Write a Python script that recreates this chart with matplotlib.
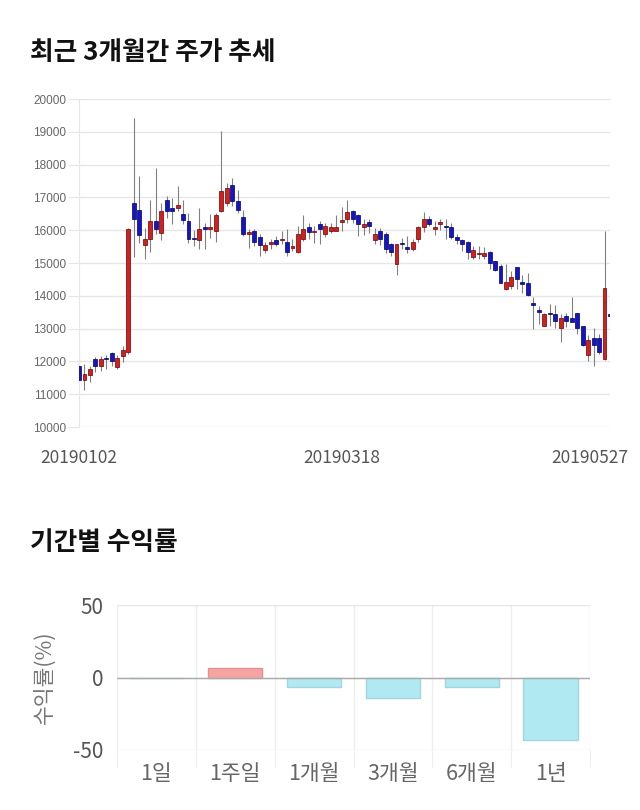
import numpy as np
import matplotlib
matplotlib.use("Agg")
import matplotlib.pyplot as plt
from matplotlib.transforms import ScaledTranslation

plt.rcParams['font.family'] = ['Noto Sans CJK KR', 'DejaVu Sans']

# daily candles, 2019-01-02 .. 2019-05-27
opens = [11850, 11420, 11600, 12060, 11850, 12110, 12260, 11820, 12160, 12300,
         16830, 16630, 15540, 15740, 16280, 15900, 16930, 16680, 16680, 16480,
         16280, 15770, 15690, 16090, 16040, 15990, 16580, 16830, 17390, 16880,
         16400, 15870, 15990, 15790, 15390, 15590, 15690, 15690, 15640, 15450,
         15340, 15740, 16090, 15940, 16200, 15890, 15990, 15990, 16250, 16350,
         16580, 16450, 16090, 16250, 15690, 15990, 15890, 15590, 14980, 15620,
         15500, 15440, 15720, 16090, 16350, 16040, 16200, 16120, 16090, 15790,
         15690, 15640, 15180, 15280, 15210, 15340, 15060, 14910, 14200, 14300,
         14890, 14430, 14380, 13770, 13570, 13090, 13490, 13440, 13010, 13390,
         13310, 13490, 13090, 12200, 12700, 12700, 12080, 13440]
highs = [12280, 11920, 11870, 12130, 12160, 12180, 12300, 12180, 12480, 16060,
         19410, 17640, 16070, 16930, 17900, 16830, 17040, 16980, 17340, 16930,
         16530, 16020, 16680, 16230, 16480, 16530, 19010, 17440, 17590, 17240,
         16630, 16040, 16040, 15870, 15640, 15740, 15820, 15970, 16040, 15740,
         16120, 16450, 16210, 16120, 16280, 16210, 16230, 16450, 16700, 16930,
         16630, 16480, 16330, 16350, 16070, 16070, 15940, 15620, 15590, 15770,
         15820, 15720, 16120, 16550, 16430, 16280, 16330, 16330, 16230, 15870,
         15740, 15670, 15520, 15520, 15490, 15370, 15060, 14960, 14960, 14760,
         14890, 14640, 14690, 13950, 13700, 13490, 13750, 13720, 13440, 13490,
         13950, 13490, 13090, 12810, 13010, 12840, 15970, 14100]
lows = [11270, 11120, 11370, 11670, 11720, 11770, 11850, 11770, 11980, 12230,
        15190, 15620, 15110, 15340, 15870, 15700, 16380, 16200, 16580, 16200,
        15620, 15520, 15420, 15420, 15770, 15640, 16550, 16730, 16730, 16530,
        15820, 15470, 15520, 15210, 15290, 15420, 15520, 15570, 15210, 15370,
        15320, 15670, 15740, 15620, 15590, 15800, 15920, 15970, 15970, 16230,
        16210, 15820, 15840, 15920, 15570, 15550, 15320, 15210, 14630, 15420,
        15320, 15370, 15640, 15940, 16120, 15840, 16020, 15720, 15720, 15570,
        15370, 15110, 15110, 15110, 15110, 14810, 14760, 14380, 14180, 14200,
        14200, 14100, 13980, 13000, 13150, 13070, 13090, 13010, 12580, 13040,
        13210, 12840, 12480, 12000, 11850, 12230, 12030, 13070]
closes = [11420, 11620, 11770, 11850, 12060, 12060, 12010, 12110, 12360, 16040,
          16350, 15840, 15740, 16280, 16040, 16580, 16600, 16600, 16780, 16300,
          15740, 15740, 16040, 16040, 16090, 16450, 17190, 17290, 16880, 16630,
          15870, 15940, 15640, 15540, 15540, 15650, 15590, 15720, 15340, 15520,
          15890, 16040, 15940, 15990, 16040, 16140, 16090, 16090, 16300, 16550,
          16350, 16200, 16200, 16140, 15890, 15740, 15440, 15340, 15590, 15590,
          15440, 15640, 16090, 16350, 16200, 16090, 16250, 16090, 15790, 15690,
          15590, 15340, 15390, 15320, 15320, 15010, 14790, 14400, 14420, 14560,
          14510, 14370, 14030, 13730, 13510, 13440, 13440, 13240, 13310, 13240,
          13210, 13010, 12500, 12650, 12500, 12300, 14250, 13370]
date_ticks = [0, 49, 97]
date_labels = ['20190102', '20190318', '20190527']

periods = ['1일', '1주일', '1개월', '3개월', '6개월', '1년']
returns = [0.0, 6.5, -6.4, -13.9, -6.4, -42.9]

fig = plt.figure(figsize=(6.4, 8.1), dpi=100)

# ---- candlestick chart ----
fig.text(30/640, 1-52/810, '최근 3개월간 주가 추세', fontsize=18.5, fontweight='bold',
         va='center', ha='left', color='#111111')
ax = fig.add_axes([79/640, 1-427/810, 531/640, 328/810])
o = np.array(opens); h = np.array(highs); l = np.array(lows); c = np.array(closes)
x = np.arange(len(o))
up = c >= o
body_col = np.where(up, '#d41f1f', '#1414c8')
edge_col = np.where(up, '#6b0000', '#00005a')
ax.vlines(x, l, h, color='#808080', linewidth=0.8, zorder=2)
bottom = np.minimum(o, c)
height = np.maximum(np.abs(c - o), 30)
ax.bar(x, height, bottom=bottom, width=0.72, color=body_col, edgecolor=edge_col,
       linewidth=0.5, zorder=3)
ax.set_xlim(0, 97)
ax.set_ylim(10000, 20000)
ax.set_yticks(np.arange(10000, 20001, 1000))
ax.yaxis.grid(True, color='#e6e6e6', linewidth=1)
ax.set_axisbelow(True)
for s in ['top', 'right', 'bottom']:
    ax.spines[s].set_visible(False)
ax.spines['left'].set_color('#e6e6e6')
ax.tick_params(axis='y', length=8, color='#e6e6e6', labelsize=8.5, labelcolor='#666666', pad=1)
for t in ax.get_yticklabels():
    t.set_fontfamily('Liberation Sans')
ax.set_xticks(date_ticks)
ax.set_xticklabels(date_labels)
ax.tick_params(axis='x', length=0, labelsize=12.5, labelcolor='#555555', pad=16)
lbls = ax.get_xticklabels()
lbls[-1].set_transform(lbls[-1].get_transform() + ScaledTranslation(-0.2, 0, fig.dpi_scale_trans))
lbls[1].set_transform(lbls[1].get_transform() + ScaledTranslation(-0.05, 0, fig.dpi_scale_trans))

# ---- returns bar chart ----
fig.text(30/640, 1-543/810, '기간별 수익률', fontsize=18.5, fontweight='bold',
         va='center', ha='left', color='#111111')
ax2 = fig.add_axes([117/640, 1-750/810, 473/640, 145/810])
pos = np.arange(len(periods))
cols = ['#f5a3a3' if r > 0 else '#b0e9f2' for r in returns]
ecols = ['#e89090' if r > 0 else '#9fd6e0' for r in returns]
ax2.bar(pos, returns, width=0.69, color=cols, edgecolor=ecols, linewidth=1, zorder=3)
ax2.set_xlim(-0.5, len(periods) - 0.5)
ax2.set_ylim(-50, 50)
ax2.set_yticks([-50, 0, 50])
ax2.set_yticklabels(['-50', '0', '50'])
ax2.axhline(0, color='#aaaaaa', linewidth=1, zorder=4)
ax2.yaxis.grid(True, color='#e6e6e6', linewidth=1)
ax2.set_xticks(np.arange(-0.5, len(periods)), minor=False)
ax2.set_xticklabels([])
ax2.xaxis.grid(True, color='#eeeeee', linewidth=1)
ax2.set_xticks(pos, minor=True)
ax2.set_xticklabels(periods, minor=True)
ax2.tick_params(axis='x', which='major', length=12, color='#eeeeee')
ax2.tick_params(axis='x', which='minor', length=0, labelsize=15.5, labelcolor='#666666', pad=9)
ax2.tick_params(axis='y', length=0, labelsize=15, labelcolor='#555555', pad=10)
ax2.set_axisbelow(True)
for s in ['top', 'right', 'bottom', 'left']:
    ax2.spines[s].set_visible(False)
ax2.set_ylabel('수익률(%)', fontsize=15.5, color='#777777', labelpad=12)

fig.savefig('out.png', dpi=100, facecolor='white')
